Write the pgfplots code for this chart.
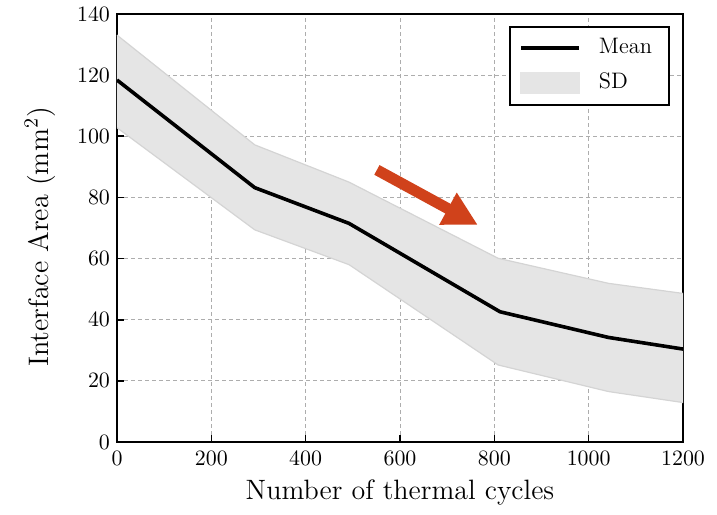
\documentclass[border=0pt]{standalone}
\usepackage{pgfplots}
\pgfplotsset{compat=1.18}
\usepgfplotslibrary{fillbetween}
\usetikzlibrary{arrows.meta}
\definecolor{arrowc}{RGB}{208,66,27}
\definecolor{bandc}{RGB}{229,229,229}
\definecolor{bandedge}{RGB}{212,212,212}
\pgfplotsset{
  meanleg/.style={legend image code/.code={\draw[black,line width=1.9pt] (0pt,0pt) -- (29pt,0pt);}},
  sdleg/.style={legend image code/.code={\fill[bandc] (0pt,-5pt) rectangle (29pt,5pt);}},
}
\begin{document}
\begin{tikzpicture}
\begin{axis}[
  name=ax,
  scale only axis,
  width=283pt, height=214pt,
  xmin=0, xmax=1200, ymin=0, ymax=140,
  xtick={0,200,...,1200}, ytick={0,20,...,140},
  /pgf/number format/1000 sep={},
  axis line style={line width=1pt},
  tick style={line width=0.8pt, black},
  major tick length=3.5pt,
  tick align=inside,
  xtick pos=bottom, ytick pos=left,
  grid=major,
  major grid style={dashed, color=black!32, line width=0.4pt, dash pattern=on 2pt off 1.5pt},
  tick label style={font=\fontsize{11}{13}\selectfont},
  xticklabel style={yshift=-1pt},
  xlabel style={font=\fontsize{14}{17}\selectfont, at={(axis description cs:0.5,-0.117)}, anchor=center},
  ylabel style={font=\fontsize{14.1}{17}\selectfont, at={(axis description cs:-0.136,0.479)}, anchor=center},
  xlabel={Number of thermal cycles},
  ylabel={Interface Area (mm$^2$)},
  legend style={at={(axis description cs:0.977,0.973)}, anchor=north east,
    draw=black, line width=1pt, font=\fontsize{11.2}{13}\selectfont,
    inner xsep=4.4pt, inner ysep=2.5pt, row sep=1pt,
    nodes={inner xsep=4.1pt, inner ysep=3pt, text height=8pt, text depth=2.5pt},
    /tikz/every odd column/.append style={column sep=4.9pt}},
  legend cell align=left,
]
\addplot[name path=up, draw=bandedge, line width=0.6pt, forget plot]
  coordinates {(0,133.1) (292,97.2) (492,85) (808,60.1) (1042,51.9) (1200,48.6)};
\addplot[name path=lo, draw=bandedge, line width=0.6pt, forget plot]
  coordinates {(0,102.8) (292,69.4) (492,58) (808,25.2) (1042,16.5) (1200,12.9)};
\addplot[fill=bandc, draw=none, forget plot] fill between[of=up and lo];
\addplot[black, line width=1.8pt, meanleg]
  coordinates {(0,118.4) (292,83.2) (492,71.5) (812,42.6) (1042,34.2) (1200,30.4)};
\addlegendentry{Mean}
\addlegendimage{sdleg}
\addlegendentry{SD}
\draw[line width=5.5pt, color=arrowc, -{Triangle[length=17pt,width=17pt]}]
  (axis cs:551,89) -- (axis cs:765,71);
\end{axis}
\pgfresetboundingbox
\path ([shift={(-58.5pt,-36pt)}]ax.south west) rectangle ([shift={(17pt,7pt)}]ax.north east);
\end{tikzpicture}
\end{document}
